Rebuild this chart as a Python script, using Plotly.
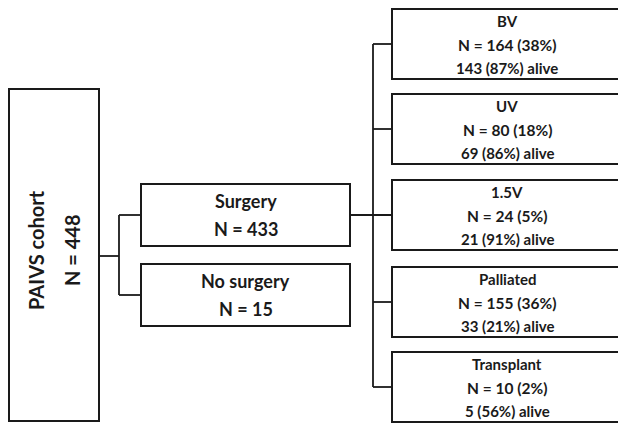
import plotly.graph_objects as go

# ---- data ----
cohort_label = "PAIVS cohort"
cohort_n = 448
branch_labels = ["Surgery", "No surgery"]
branch_n = [433, 15]
outcome_labels = ["BV", "UV", "1.5V", "Palliated", "Transplant"]
outcome_n = [164, 80, 24, 155, 10]
outcome_pct = [38, 18, 5, 36, 2]
outcome_alive = [143, 69, 21, 33, 5]
outcome_alive_pct = [87, 86, 91, 21, 56]

# ---- layout constants ----
W, H = 618, 423
FONT = "Lato"
INK = "#1a1a1a"
LINE = dict(color=INK, width=2)

fig = go.Figure()
shapes = []
ann = []

def box(x0, y0, x1, y1):
    shapes.append(dict(type="rect", xref="x", yref="y", x0=x0, y0=y0, x1=x1, y1=y1,
                       line=LINE, fillcolor="white", layer="above"))

def seg(x0, y0, x1, y1):
    shapes.append(dict(type="line", xref="x", yref="y", x0=x0, y0=y0, x1=x1, y1=y1,
                       line=dict(color=INK, width=1.8), layer="below"))

def text(x, y, s, size, angle=0):
    ann.append(dict(x=x, y=y, xref="x", yref="y", text="<b>%s</b>" % s, showarrow=False,
                    textangle=angle, font=dict(family=FONT, size=size, color=INK),
                    xanchor="center", yanchor="middle"))

# cohort box
cx0, cx1, cy0, cy1 = 9, 99, 89, 421
box(cx0, cy0, cx1, cy1)
ccx = (cx0 + cx1) / 2
ccy = 250
text(ccx - 18, ccy, cohort_label, 20, -90)
text(ccx + 18, ccy, "N = %d" % cohort_n, 20, -90)

# branch boxes
bx0, bx1 = 141, 350
b_tops = [184, 264]
b_h = 62
bmids = []
for i, lab in enumerate(branch_labels):
    t = b_tops[i]
    box(bx0, t, bx1, t + b_h)
    m = t + b_h / 2
    bmids.append(m)
    text((bx0 + bx1) / 2, m - 14, lab, 18)
    text((bx0 + bx1) / 2, m + 14, "N = %d" % branch_n[i], 18)

# cohort -> branch connectors
seg(cx1, 256, 119, 256)
seg(119, bmids[0], 119, bmids[1])
for m in bmids:
    seg(119, m, bx0, m)

# outcome boxes
ox0, ox1 = 392, 621
o_tops = [9, 94, 180, 267, 352]
o_h = 70
omids = []
for i, lab in enumerate(outcome_labels):
    t = o_tops[i]
    box(ox0, t, ox1, t + o_h)
    m = t + o_h / 2
    omids.append(m)
    xc = 507
    text(xc, m - 23, lab, 15)
    text(xc, m + 0.5, "N = %d (%d%%)" % (outcome_n[i], outcome_pct[i]), 15.5)
    text(xc, m + 23.5, "%d (%d%%) alive" % (outcome_alive[i], outcome_alive_pct[i]), 15)

# surgery -> outcomes connectors
vx = 373
seg(bx1, bmids[0], ox0, bmids[0])
seg(vx, omids[0], vx, omids[-1])
for m in omids:
    seg(vx, m, ox0, m)

fig.update_layout(
    width=W, height=H, margin=dict(l=0, r=0, t=0, b=0),
    paper_bgcolor="white", plot_bgcolor="white",
    xaxis=dict(range=[0, W], visible=False, fixedrange=True),
    yaxis=dict(range=[H, 0], visible=False, fixedrange=True),
    shapes=shapes, annotations=ann, showlegend=False,
)
fig.write_html("out.html", config={"displayModeBar": False},
               post_script="document.body.style.margin='0';document.body.style.overflow='hidden';")
